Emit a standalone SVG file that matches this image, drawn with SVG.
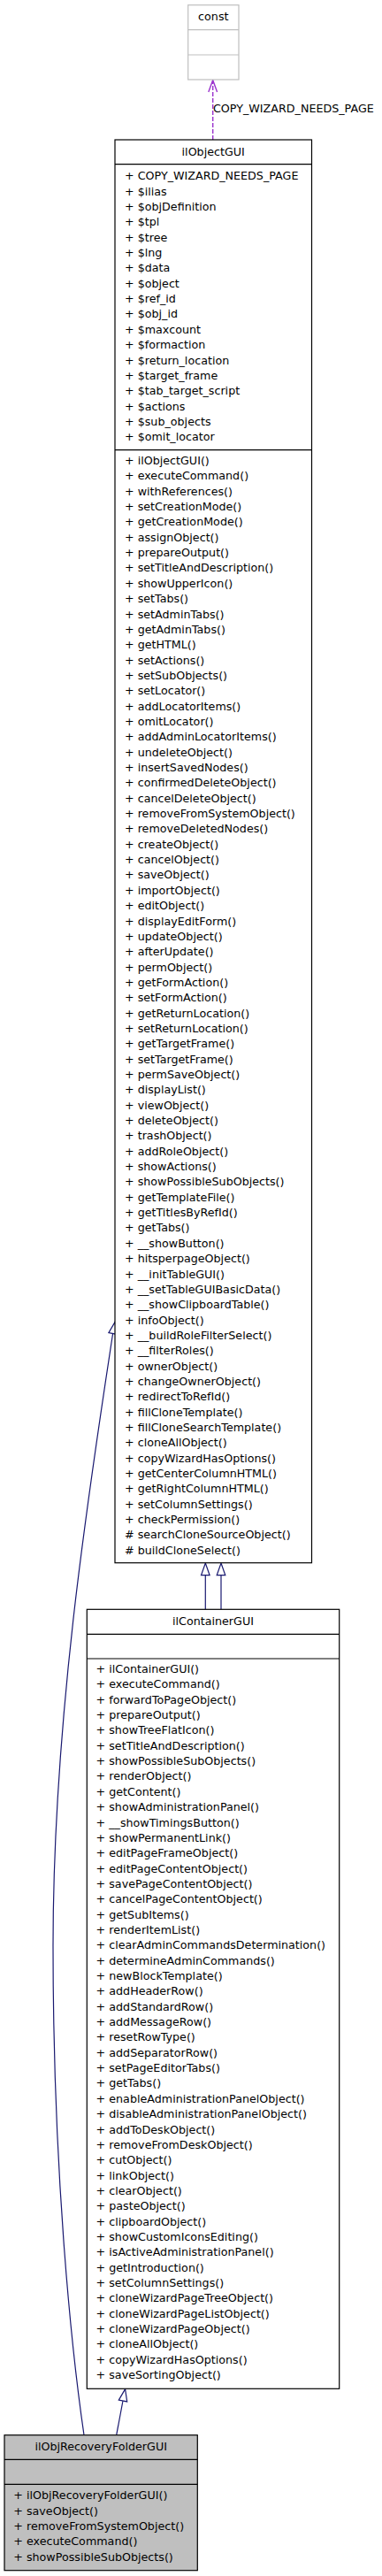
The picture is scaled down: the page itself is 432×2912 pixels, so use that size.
<svg xmlns="http://www.w3.org/2000/svg" width="432" height="2912" viewBox="0 0 432 2912">
<style>
text{font-family:"DejaVu Sans","Liberation Sans",sans-serif;font-size:12.7px;fill:#000}
.t{text-anchor:middle}
.box{fill:#fff;stroke:#000;stroke-width:1.2}
.sep{stroke:#000;stroke-width:1.2}
.cbox{fill:#fff;stroke:#bfbfbf;stroke-width:1.2}
.csep{stroke:#bfbfbf;stroke-width:1.2}
.edge{fill:none;stroke:#191970;stroke-width:1.2}
.ah{fill:#fff;stroke:#191970;stroke-width:1.2}
.use{fill:none;stroke:#9a32cd;stroke-width:1.4}
</style>
<rect width="432" height="2912" fill="#fff"/>
<g id="connectors">
<path class="use" d="M240.7,158 L240.7,92" stroke-dasharray="5,2"/>
<polyline class="use" points="235.8,104 240.7,90.5 245.6,104" stroke-width="1.6"/>
<text x="241" y="126.7">COPY_WIZARD_NEEDS_PAGE</text>
<path class="edge" d="M232.3,1819.3 L232.3,1780.7"/>
<polygon class="ah" points="232.3,1767 237.1,1780.7 227.5,1780.7"/>
<path class="edge" d="M250,1819.3 L250,1780.7"/>
<polygon class="ah" points="250,1767 254.8,1780.7 245.2,1780.7"/>
<path class="edge" d="M131.7,2752.7 L139,2714"/>
<polygon class="ah" points="141.6,2700.6 143.7,2714.9 134.3,2713.1"/>
<path class="edge" d="M95,2752.7 C80,2650 60,2450 60,2200 C60,1950 98,1700 127.6,1507.5"/>
<polygon class="ah" points="130,1494.5 132.3,1508.4 122.9,1506.6"/>
</g>
<g id="const">
<rect class="cbox" x="212.7" y="5.7" width="57.3" height="84.3"/>
<line class="csep" x1="212.7" y1="33.7" x2="270" y2="33.7"/>
<line class="csep" x1="212.7" y1="62" x2="270" y2="62"/>
<text class="t" x="241.3" y="22.7">const</text>
</g>
<g id="ilObjectGUI">
<rect class="box" x="130" y="158" width="222.5" height="1608.7"/>
<line class="sep" x1="130" y1="185.7" x2="352.5" y2="185.7"/>
<line class="sep" x1="130" y1="508.7" x2="352.5" y2="508.7"/>
<text class="t" x="241.2" y="175.7">ilObjectGUI</text>
<text x="141" y="203.3"><tspan x="141">+ COPY_WIZARD_NEEDS_PAGE</tspan><tspan x="141" dy="17.35">+ $ilias</tspan><tspan x="141" dy="17.35">+ $objDefinition</tspan><tspan x="141" dy="17.35">+ $tpl</tspan><tspan x="141" dy="17.35">+ $tree</tspan><tspan x="141" dy="17.35">+ $lng</tspan><tspan x="141" dy="17.35">+ $data</tspan><tspan x="141" dy="17.35">+ $object</tspan><tspan x="141" dy="17.35">+ $ref_id</tspan><tspan x="141" dy="17.35">+ $obj_id</tspan><tspan x="141" dy="17.35">+ $maxcount</tspan><tspan x="141" dy="17.35">+ $formaction</tspan><tspan x="141" dy="17.35">+ $return_location</tspan><tspan x="141" dy="17.35">+ $target_frame</tspan><tspan x="141" dy="17.35">+ $tab_target_script</tspan><tspan x="141" dy="17.35">+ $actions</tspan><tspan x="141" dy="17.35">+ $sub_objects</tspan><tspan x="141" dy="17.35">+ $omit_locator</tspan></text>
<text x="141" y="525"><tspan x="141">+ ilObjectGUI()</tspan><tspan x="141" dy="17.35">+ executeCommand()</tspan><tspan x="141" dy="17.35">+ withReferences()</tspan><tspan x="141" dy="17.35">+ setCreationMode()</tspan><tspan x="141" dy="17.35">+ getCreationMode()</tspan><tspan x="141" dy="17.35">+ assignObject()</tspan><tspan x="141" dy="17.35">+ prepareOutput()</tspan><tspan x="141" dy="17.35">+ setTitleAndDescription()</tspan><tspan x="141" dy="17.35">+ showUpperIcon()</tspan><tspan x="141" dy="17.35">+ setTabs()</tspan><tspan x="141" dy="17.35">+ setAdminTabs()</tspan><tspan x="141" dy="17.35">+ getAdminTabs()</tspan><tspan x="141" dy="17.35">+ getHTML()</tspan><tspan x="141" dy="17.35">+ setActions()</tspan><tspan x="141" dy="17.35">+ setSubObjects()</tspan><tspan x="141" dy="17.35">+ setLocator()</tspan><tspan x="141" dy="17.35">+ addLocatorItems()</tspan><tspan x="141" dy="17.35">+ omitLocator()</tspan><tspan x="141" dy="17.35">+ addAdminLocatorItems()</tspan><tspan x="141" dy="17.35">+ undeleteObject()</tspan><tspan x="141" dy="17.35">+ insertSavedNodes()</tspan><tspan x="141" dy="17.35">+ confirmedDeleteObject()</tspan><tspan x="141" dy="17.35">+ cancelDeleteObject()</tspan><tspan x="141" dy="17.35">+ removeFromSystemObject()</tspan><tspan x="141" dy="17.35">+ removeDeletedNodes()</tspan><tspan x="141" dy="17.35">+ createObject()</tspan><tspan x="141" dy="17.35">+ cancelObject()</tspan><tspan x="141" dy="17.35">+ saveObject()</tspan><tspan x="141" dy="17.35">+ importObject()</tspan><tspan x="141" dy="17.35">+ editObject()</tspan><tspan x="141" dy="17.35">+ displayEditForm()</tspan><tspan x="141" dy="17.35">+ updateObject()</tspan><tspan x="141" dy="17.35">+ afterUpdate()</tspan><tspan x="141" dy="17.35">+ permObject()</tspan><tspan x="141" dy="17.35">+ getFormAction()</tspan><tspan x="141" dy="17.35">+ setFormAction()</tspan><tspan x="141" dy="17.35">+ getReturnLocation()</tspan><tspan x="141" dy="17.35">+ setReturnLocation()</tspan><tspan x="141" dy="17.35">+ getTargetFrame()</tspan><tspan x="141" dy="17.35">+ setTargetFrame()</tspan><tspan x="141" dy="17.35">+ permSaveObject()</tspan><tspan x="141" dy="17.35">+ displayList()</tspan><tspan x="141" dy="17.35">+ viewObject()</tspan><tspan x="141" dy="17.35">+ deleteObject()</tspan><tspan x="141" dy="17.35">+ trashObject()</tspan><tspan x="141" dy="17.35">+ addRoleObject()</tspan><tspan x="141" dy="17.35">+ showActions()</tspan><tspan x="141" dy="17.35">+ showPossibleSubObjects()</tspan><tspan x="141" dy="17.35">+ getTemplateFile()</tspan><tspan x="141" dy="17.35">+ getTitlesByRefId()</tspan><tspan x="141" dy="17.35">+ getTabs()</tspan><tspan x="141" dy="17.35">+ __showButton()</tspan><tspan x="141" dy="17.35">+ hitsperpageObject()</tspan><tspan x="141" dy="17.35">+ __initTableGUI()</tspan><tspan x="141" dy="17.35">+ __setTableGUIBasicData()</tspan><tspan x="141" dy="17.35">+ __showClipboardTable()</tspan><tspan x="141" dy="17.35">+ infoObject()</tspan><tspan x="141" dy="17.35">+ __buildRoleFilterSelect()</tspan><tspan x="141" dy="17.35">+ __filterRoles()</tspan><tspan x="141" dy="17.35">+ ownerObject()</tspan><tspan x="141" dy="17.35">+ changeOwnerObject()</tspan><tspan x="141" dy="17.35">+ redirectToRefId()</tspan><tspan x="141" dy="17.35">+ fillCloneTemplate()</tspan><tspan x="141" dy="17.35">+ fillCloneSearchTemplate()</tspan><tspan x="141" dy="17.35">+ cloneAllObject()</tspan><tspan x="141" dy="17.35">+ copyWizardHasOptions()</tspan><tspan x="141" dy="17.35">+ getCenterColumnHTML()</tspan><tspan x="141" dy="17.35">+ getRightColumnHTML()</tspan><tspan x="141" dy="17.35">+ setColumnSettings()</tspan><tspan x="141" dy="17.35">+ checkPermission()</tspan><tspan x="141" dy="17.35"># searchCloneSourceObject()</tspan><tspan x="141" dy="17.35"># buildCloneSelect()</tspan></text>
</g>
<g id="ilContainerGUI">
<rect class="box" x="98.3" y="1819.3" width="285.4" height="881"/>
<line class="sep" x1="98.3" y1="1847.3" x2="383.7" y2="1847.3"/>
<line class="sep" x1="98.3" y1="1875" x2="383.7" y2="1875"/>
<text class="t" x="241" y="1836.7">ilContainerGUI</text>
<text x="108.6" y="1891"><tspan x="108.6">+ ilContainerGUI()</tspan><tspan x="108.6" dy="17.35">+ executeCommand()</tspan><tspan x="108.6" dy="17.35">+ forwardToPageObject()</tspan><tspan x="108.6" dy="17.35">+ prepareOutput()</tspan><tspan x="108.6" dy="17.35">+ showTreeFlatIcon()</tspan><tspan x="108.6" dy="17.35">+ setTitleAndDescription()</tspan><tspan x="108.6" dy="17.35">+ showPossibleSubObjects()</tspan><tspan x="108.6" dy="17.35">+ renderObject()</tspan><tspan x="108.6" dy="17.35">+ getContent()</tspan><tspan x="108.6" dy="17.35">+ showAdministrationPanel()</tspan><tspan x="108.6" dy="17.35">+ __showTimingsButton()</tspan><tspan x="108.6" dy="17.35">+ showPermanentLink()</tspan><tspan x="108.6" dy="17.35">+ editPageFrameObject()</tspan><tspan x="108.6" dy="17.35">+ editPageContentObject()</tspan><tspan x="108.6" dy="17.35">+ savePageContentObject()</tspan><tspan x="108.6" dy="17.35">+ cancelPageContentObject()</tspan><tspan x="108.6" dy="17.35">+ getSubItems()</tspan><tspan x="108.6" dy="17.35">+ renderItemList()</tspan><tspan x="108.6" dy="17.35">+ clearAdminCommandsDetermination()</tspan><tspan x="108.6" dy="17.35">+ determineAdminCommands()</tspan><tspan x="108.6" dy="17.35">+ newBlockTemplate()</tspan><tspan x="108.6" dy="17.35">+ addHeaderRow()</tspan><tspan x="108.6" dy="17.35">+ addStandardRow()</tspan><tspan x="108.6" dy="17.35">+ addMessageRow()</tspan><tspan x="108.6" dy="17.35">+ resetRowType()</tspan><tspan x="108.6" dy="17.35">+ addSeparatorRow()</tspan><tspan x="108.6" dy="17.35">+ setPageEditorTabs()</tspan><tspan x="108.6" dy="17.35">+ getTabs()</tspan><tspan x="108.6" dy="17.35">+ enableAdministrationPanelObject()</tspan><tspan x="108.6" dy="17.35">+ disableAdministrationPanelObject()</tspan><tspan x="108.6" dy="17.35">+ addToDeskObject()</tspan><tspan x="108.6" dy="17.35">+ removeFromDeskObject()</tspan><tspan x="108.6" dy="17.35">+ cutObject()</tspan><tspan x="108.6" dy="17.35">+ linkObject()</tspan><tspan x="108.6" dy="17.35">+ clearObject()</tspan><tspan x="108.6" dy="17.35">+ pasteObject()</tspan><tspan x="108.6" dy="17.35">+ clipboardObject()</tspan><tspan x="108.6" dy="17.35">+ showCustomIconsEditing()</tspan><tspan x="108.6" dy="17.35">+ isActiveAdministrationPanel()</tspan><tspan x="108.6" dy="17.35">+ getIntroduction()</tspan><tspan x="108.6" dy="17.35">+ setColumnSettings()</tspan><tspan x="108.6" dy="17.35">+ cloneWizardPageTreeObject()</tspan><tspan x="108.6" dy="17.35">+ cloneWizardPageListObject()</tspan><tspan x="108.6" dy="17.35">+ cloneWizardPageObject()</tspan><tspan x="108.6" dy="17.35">+ cloneAllObject()</tspan><tspan x="108.6" dy="17.35">+ copyWizardHasOptions()</tspan><tspan x="108.6" dy="17.35">+ saveSortingObject()</tspan></text>
</g>
<g id="ilObjRecoveryFolderGUI">
<rect class="box" x="5" y="2752.7" width="218.3" height="153" fill="#bfbfbf" style="fill:#bfbfbf"/>
<line class="sep" x1="5" y1="2780.3" x2="223.3" y2="2780.3"/>
<line class="sep" x1="5" y1="2808.3" x2="223.3" y2="2808.3"/>
<text class="t" x="114.2" y="2770">ilObjRecoveryFolderGUI</text>
<text x="15.3" y="2825.3"><tspan x="15.3">+ ilObjRecoveryFolderGUI()</tspan><tspan x="15.3" dy="17.35">+ saveObject()</tspan><tspan x="15.3" dy="17.35">+ removeFromSystemObject()</tspan><tspan x="15.3" dy="17.35">+ executeCommand()</tspan><tspan x="15.3" dy="17.35">+ showPossibleSubObjects()</tspan></text>
</g>
</svg>
